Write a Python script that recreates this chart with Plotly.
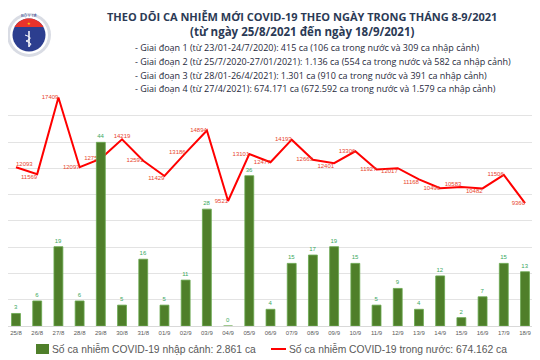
import math
import plotly.graph_objects as go

dates = ["25/8", "26/8", "27/8", "28/8", "29/8", "30/8", "31/8", "01/9", "02/9", "03/9",
         "04/9", "05/9", "06/9", "07/9", "08/9", "09/9", "10/9", "11/9", "12/9", "13/9",
         "14/9", "15/9", "16/9", "17/9", "18/9"]
imported = [3, 6, 19, 6, 44, 5, 16, 5, 11, 28, 0, 36, 4, 15, 17, 19, 15, 5, 9, 4, 12, 2, 7, 15, 13]
domestic = [12093, 11569, 17409, 12097, 12753, 14219, 12591, 11429, 13186, 14894, 9521, 13101,
            12477, 14193, 12663, 12401, 13306, 11927, 12017, 11168, 10496, 10583, 10482, 11506, 9360]

title = "THEO DÕI CA NHIỄM MỚI COVID-19 THEO NGÀY TRONG THÁNG 8-9/2021"
subtitle = "(từ ngày 25/8/2021 đến ngày 18/9/2021)"
stages = [
    "- Giai đoạn 1 (từ 23/01-24/7/2020): 415 ca (106 ca trong nước và 309 ca nhập cảnh)",
    "- Giai đoạn 2 (từ 25/7/2020-27/01/2021): 1.136 ca (554 ca trong nước và 582 ca nhập cảnh)",
    "- Giai đoạn 3 (từ 28/01-26/4/2021): 1.301 ca (910 ca trong nước và 391 ca nhập cảnh)",
    "- Giai đoạn 4 (từ 27/4/2021): 674.171 ca (672.592 ca trong nước và 1.579 ca nhập cảnh)",
]
bar_name = "Số ca nhiễm COVID-19 nhập cảnh: 2.861 ca"
line_name = "Số ca nhiễm COVID-19 trong nước: 674.162 ca"

# the page body adds an 8px offset, so the figure is 8px smaller than the window
OFF = 8
W, H = 540 - OFF, 360 - OFF
ML, MR, MT, MB = 0, 3, 83, 34
PW, PH = W - ML - MR, H - MT - MB


def px(x, y):
    """window pixel -> paper coordinates"""
    return (x - OFF - ML) / PW, (H - MB - (y - OFF)) / PH


# category range so that first/last categories land at window x=16 and x=525
step = (525 - 16) / 24
x_lo = -(16 - OFF - ML) / step
x_hi = 24 + (W - MR + OFF - 525) / step

label_pos = ["top right", "bottom left", "middle left", "middle left", "middle left", "top center",
             "middle left", "bottom left", "middle left", "middle left", "middle left", "middle left",
             "middle left", "middle left", "middle left", "bottom left", "middle left", "middle left",
             "bottom left", "bottom left", "middle left", "top left", "bottom left", "middle left",
             "middle left"]

BAR_FILL = "#4f7f2a"
LINE_COL = "#ff0000"

fig = go.Figure()
fig.add_trace(go.Bar(
    x=dates, y=imported, name=bar_name, yaxis="y2",
    marker=dict(color=BAR_FILL, line=dict(color="#6aa84f", width=0.8)),
    width=0.42,
    text=[str(v) for v in imported], textposition="outside",
    textfont=dict(size=6, color="#3aa860", family="Liberation Sans"),
    cliponaxis=False,
))
fig.add_trace(go.Scatter(
    x=dates, y=domestic, name=line_name, mode="lines+text",
    line=dict(color=LINE_COL, width=2),
    text=[str(v) for v in domestic], textposition=label_pos,
    textfont=dict(size=6, color="#e8452f", family="Liberation Sans"),
    cliponaxis=False,
))

ann = []
shapes = []


def add_text(x, y, s, size, color, anchor="center", family="Open Sans"):
    u, v = px(x, y)
    ann.append(dict(x=u, y=v, text=s, showarrow=False, xref="paper", yref="paper", xanchor=anchor,
                    yanchor="middle", font=dict(size=size, color=color, family=family)))


add_text(302, 16, "<b>" + title + "</b>", 11, "#2b3a55")
add_text(302, 32, "<b>" + subtitle + "</b>", 11.5, "#2b3a55")
for i, s in enumerate(stages):
    add_text(133, 47.5 + 13.8 * i, s, 9.0, "#1f2a3c", anchor="left")

# bottom legend (drawn manually so it stays on one row)
a, b = px(36, 344)
c, d = px(49, 354)
shapes.append(dict(type="rect", xref="paper", yref="paper", x0=a, y0=b, x1=c, y1=d,
                   fillcolor=BAR_FILL, line=dict(width=0)))
add_text(50, 349, bar_name, 10.3, "#595959", anchor="left", family="Liberation Sans")
a, b = px(271, 349)
c, d = px(286, 349)
shapes.append(dict(type="line", xref="paper", yref="paper", x0=a, y0=b, x1=c, y1=d,
                   line=dict(color=LINE_COL, width=2)))
add_text(287, 349, line_name, 10.3, "#595959", anchor="left", family="Liberation Sans")

# logo
cx, cy = 29, 35


def circ(r, fill):
    a, b = px(cx - r, cy - r)
    c, d = px(cx + r, cy + r)
    return dict(type="circle", xref="paper", yref="paper", x0=a, y0=b, x1=c, y1=d,
                fillcolor=fill, line=dict(color=fill, width=0), layer="above")


shapes.append(circ(22, "#d9dce4"))
shapes.append(circ(19, "#ffffff"))
shapes.append(circ(16.5, "#2c3e8f"))
r = 16.5
yb = cy - 8
ang0 = math.asin((cy - yb) / r)
path = ""
for k in range(21):
    t = math.pi - ang0 - (math.pi - 2 * ang0) * k / 20
    u, v = px(cx + r * math.cos(t), cy - r * math.sin(t))
    path += ("M" if k == 0 else "L") + f"{u:.5f},{v:.5f} "
path += "Z"
shapes.append(dict(type="path", path=path, xref="paper", yref="paper", fillcolor="#e8332b",
                   line=dict(width=0), layer="above"))
a, b = px(cx, cy - 4)
c, d = px(cx, cy + 12)
shapes.append(dict(type="line", xref="paper", yref="paper", x0=a, y0=b, x1=c, y1=d,
                   line=dict(color="white", width=1.5), layer="above"))
p1, p2, p3, p4, p5 = px(cx - 4, cy), px(cx + 6, cy + 3), px(cx - 3, cy + 6), px(cx + 5, cy + 9), px(cx, cy + 11)
shapes.append(dict(type="path", xref="paper", yref="paper",
                   path=f"M{p1[0]},{p1[1]} Q{p2[0]},{p2[1]} {p3[0]},{p3[1]} Q{p4[0]},{p4[1]} {p5[0]},{p5[1]}",
                   line=dict(color="white", width=1), layer="above"))
add_text(cx, cy - 20, "BỘ Y TẾ", 4, "#2c3e8f", family="Liberation Sans")
add_text(cx, cy - 11, "★", 4, "#ffd400", family="DejaVu Sans")

fig.update_layout(
    width=W, height=H,
    margin=dict(l=ML, r=MR, t=MT, b=MB, pad=0, autoexpand=False),
    paper_bgcolor="white", plot_bgcolor="white",
    showlegend=False,
    xaxis=dict(type="category", range=[x_lo, x_hi], showgrid=False, showline=False, ticks="",
               automargin=False,
               tickfont=dict(size=6, color="#595959", family="Liberation Sans"), ticklabelstandoff=2),
    yaxis=dict(range=[0, 17900], dtick=2000, showgrid=True, gridcolor="#e3e3e3", gridwidth=1,
               automargin=False,
               showticklabels=False, zeroline=True, zerolinecolor="#d9d9d9", zerolinewidth=1),
    yaxis2=dict(range=[0, 56.3], overlaying="y", showgrid=False, showticklabels=False, zeroline=False),
    annotations=ann,
    shapes=shapes,
)

fig.write_html("out.html")
